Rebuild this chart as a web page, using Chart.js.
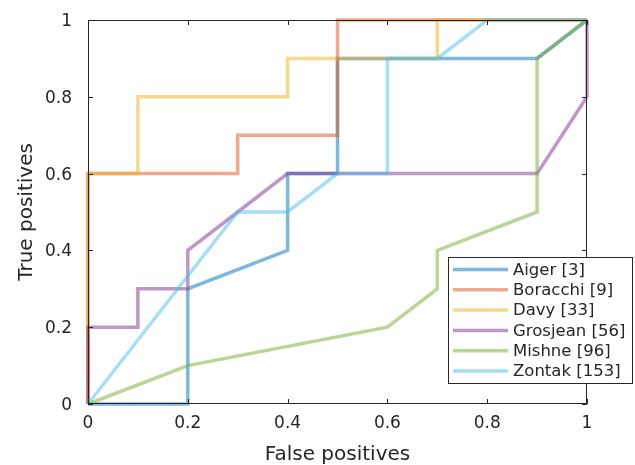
<!DOCTYPE html>
<html>
<head>
<meta charset="utf-8">
<script src="https://cdn.jsdelivr.net/npm/chart.js@4/dist/chart.umd.min.js"></script>
<style>
  body { margin: 0; background: #fff; }
  canvas { display: block; }
</style>
</head>
<body>
<canvas id="rocChart" width="635" height="465"></canvas>
<script>
// ROC points (false positive rate / true positive rate)
const names = ['Aiger [3]', 'Boracchi [9]', 'Davy [33]', 'Grosjean [56]', 'Mishne [96]', 'Zontak [153]'];

const aigerFp = [0, 0.2, 0.2, 0.4, 0.4, 0.5, 0.5, 0.9, 1];
const aigerTp = [0, 0, 0.3, 0.4, 0.6, 0.6, 0.9, 0.9, 1];

const boracchiFp = [0, 0, 0.3, 0.3, 0.5, 0.5, 1];
const boracchiTp = [0, 0.6, 0.6, 0.7, 0.7, 1, 1];

const davyFp = [0, 0, 0.1, 0.1, 0.4, 0.4, 0.7, 0.7, 1];
const davyTp = [0, 0.6, 0.6, 0.8, 0.8, 0.9, 0.9, 1, 1];

const grosjeanFp = [0, 0, 0.1, 0.1, 0.2, 0.2, 0.3, 0.4, 0.9, 1, 1];
const grosjeanTp = [0, 0.2, 0.2, 0.3, 0.3, 0.4, 0.5, 0.6, 0.6, 0.8, 1];

const mishneFp = [0, 0.2, 0.6, 0.7, 0.7, 0.9, 0.9, 1];
const mishneTp = [0, 0.1, 0.2, 0.3, 0.4, 0.5, 0.9, 1];

const zontakFp = [0, 0.3, 0.4, 0.5, 0.6, 0.6, 0.7, 0.8, 1];
const zontakTp = [0, 0.5, 0.5, 0.6, 0.6, 0.9, 0.9, 1, 1];

const tickValues = [0, 0.2, 0.4, 0.6, 0.8, 1];
const tickLabels = ['0', '0.2', '0.4', '0.6', '0.8', '1'];

// matlab default line colours, half transparent
const colors = [
    'rgba(0, 114, 189, 0.5)',
    'rgba(217, 83, 25, 0.5)',
    'rgba(237, 177, 32, 0.5)',
    'rgba(126, 47, 142, 0.5)',
    'rgba(119, 172, 48, 0.5)',
    'rgba(77, 190, 238, 0.5)'
];

const series = [
    [aigerFp, aigerTp],
    [boracchiFp, boracchiTp],
    [davyFp, davyTp],
    [grosjeanFp, grosjeanTp],
    [mishneFp, mishneTp],
    [zontakFp, zontakTp]
];

function toPoints(xs, ys) {
    return xs.map((x, i) => ({ x: x, y: ys[i] }));
}

const axisColor = '#262626';
const fontFamily = '"DejaVu Sans", sans-serif';

function tickLabel(value) {
    const i = tickValues.findIndex(v => Math.abs(v - value) < 1e-9);
    return i >= 0 ? tickLabels[i] : '';
}

// box round the axes plus inward ticks, and the legend
const frameAndLegend = {
    id: 'frameAndLegend',
    afterDatasetsDraw(chart) {
        const ctx = chart.ctx;
        const { left, right, top, bottom } = chart.chartArea;
        const xs = chart.scales.x;
        const ys = chart.scales.y;
        const tl = 5;
        ctx.save();
        ctx.strokeStyle = axisColor;
        ctx.lineWidth = 1;
        ctx.beginPath();
        ctx.rect(left + 0.5, top + 0.5, right - left - 1, bottom - top - 1);
        tickValues.forEach(v => {
            const px = Math.round(xs.getPixelForValue(v)) + 0.5;
            ctx.moveTo(px, bottom); ctx.lineTo(px, bottom - tl);
            ctx.moveTo(px, top); ctx.lineTo(px, top + tl);
            const py = Math.round(ys.getPixelForValue(v)) + 0.5;
            ctx.moveTo(left, py); ctx.lineTo(left + tl, py);
            ctx.moveTo(right, py); ctx.lineTo(right - tl, py);
        });
        ctx.stroke();

        // legend
        const bx = 448, by = 257, bw = 185, bh = 127;
        ctx.fillStyle = '#fff';
        ctx.fillRect(bx, by, bw, bh);
        ctx.strokeRect(bx + 0.5, by + 0.5, bw - 1, bh - 1);
        ctx.font = '16.5px ' + fontFamily;
        ctx.textBaseline = 'middle';
        ctx.textAlign = 'left';
        chart.data.datasets.forEach((ds, i) => {
            const y = 269.5 + i * 20.3;
            ctx.strokeStyle = ds.borderColor;
            ctx.lineWidth = 3.5;
            ctx.beginPath();
            ctx.moveTo(453, y);
            ctx.lineTo(508, y);
            ctx.stroke();
            ctx.fillStyle = axisColor;
            ctx.fillText(ds.label, 513, y + 1);
        });
        ctx.restore();
    }
};

new Chart(document.getElementById('rocChart'), {
    type: 'scatter',
    data: {
        datasets: series.map((s, i) => ({
            label: names[i],
            data: toPoints(s[0], s[1]),
            showLine: true,
            borderColor: colors[i],
            backgroundColor: colors[i],
            borderWidth: 3.5,
            pointRadius: 0,
            tension: 0,
            clip: false,
            order: series.length - i
        }))
    },
    options: {
        responsive: false,
        animation: false,
        devicePixelRatio: 1,
        layout: {
            padding: { top: 20, right: 48, left: 0, bottom: 0 }
        },
        plugins: {
            legend: { display: false },
            tooltip: { enabled: false }
        },
        scales: {
            x: {
                type: 'linear',
                min: 0,
                max: 1,
                afterFit: scale => { scale.height = 61; },
                afterBuildTicks: scale => { scale.ticks = tickValues.map(v => ({ value: v })); },
                grid: { display: false },
                border: { display: false },
                ticks: {
                    color: axisColor,
                    padding: 1,
                    maxRotation: 0,
                    callback: tickLabel,
                    font: { family: fontFamily, size: 17 }
                },
                title: {
                    display: true,
                    text: 'False positives',
                    color: axisColor,
                    padding: { top: 0, bottom: -2 },
                    font: { family: fontFamily, size: 20 }
                }
            },
            y: {
                type: 'linear',
                min: 0,
                max: 1,
                afterFit: scale => { scale.width = 88; },
                afterBuildTicks: scale => { scale.ticks = tickValues.map(v => ({ value: v })); },
                grid: { display: false },
                border: { display: false },
                ticks: {
                    color: axisColor,
                    padding: 8,
                    labelOffset: 1.5,
                    callback: tickLabel,
                    font: { family: fontFamily, size: 17 }
                },
                title: {
                    display: true,
                    text: 'True positives',
                    color: axisColor,
                    padding: { top: 15, bottom: 0 },
                    font: { family: fontFamily, size: 20 }
                }
            }
        }
    },
    plugins: [frameAndLegend]
});
</script>
</body>
</html>
